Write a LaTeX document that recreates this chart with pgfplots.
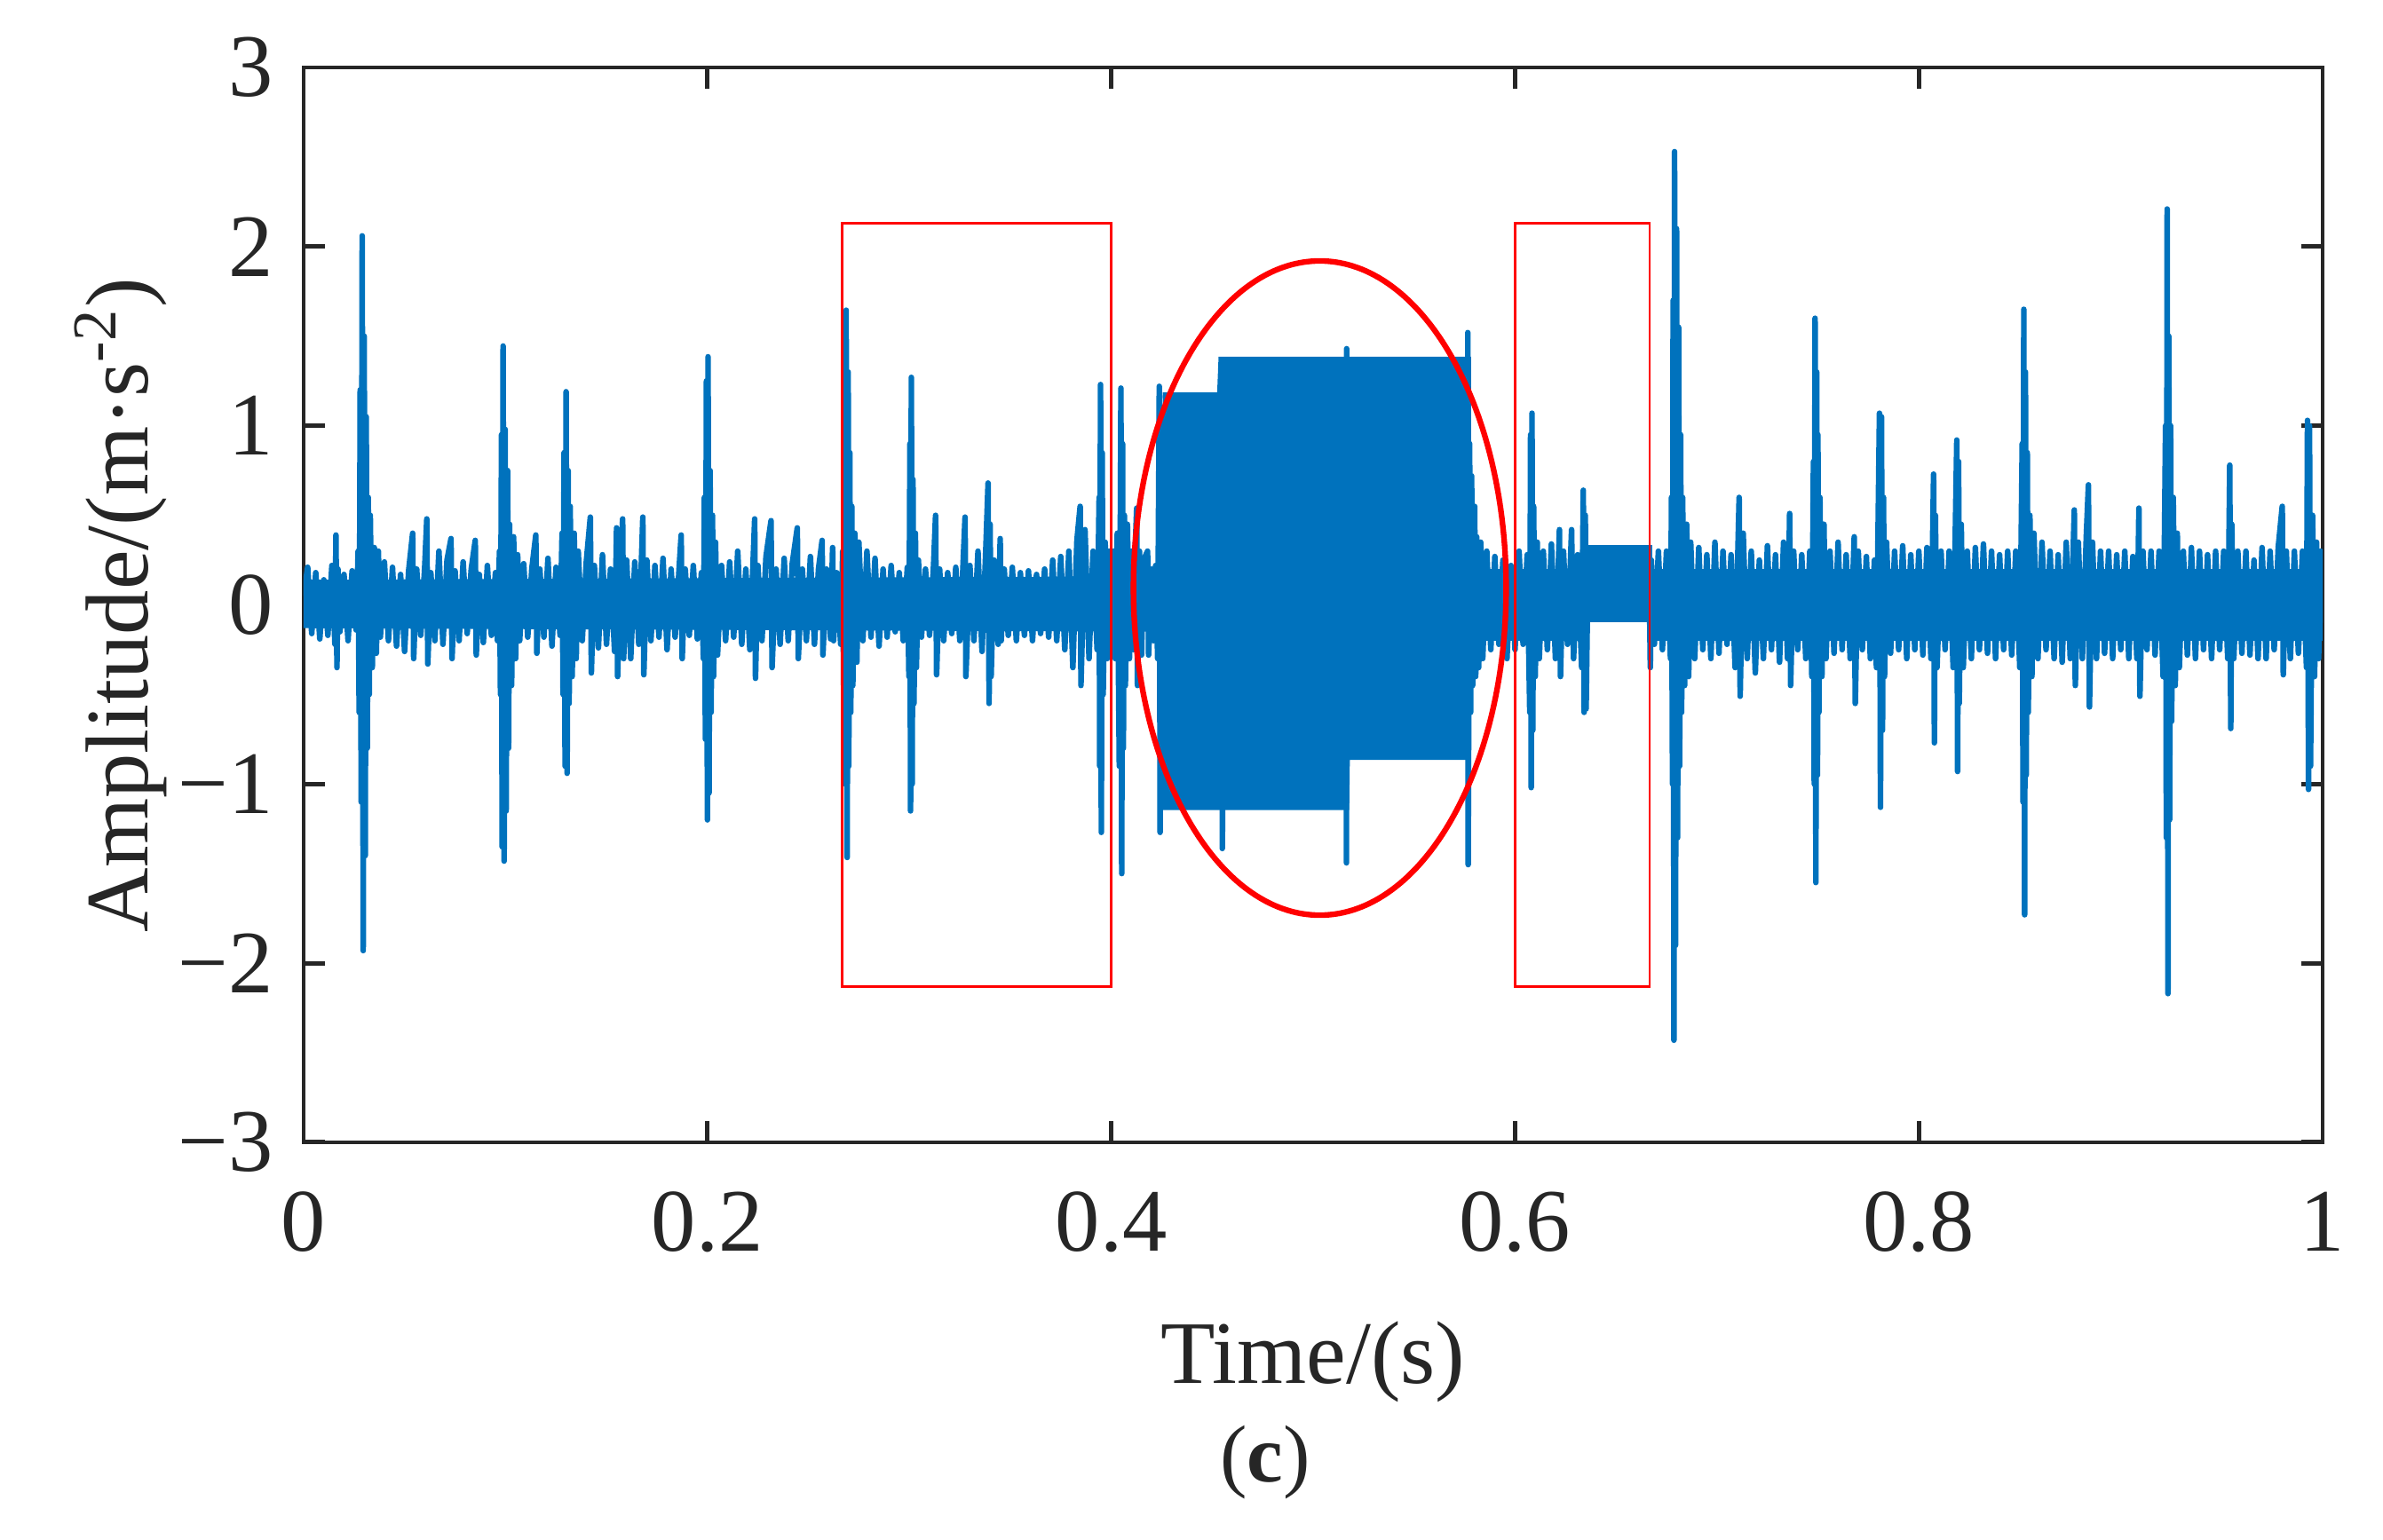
\documentclass[border=0pt]{standalone}
\usepackage{fontspec}
\setmainfont{Liberation Serif}
\usepackage{pgfplots}
\pgfplotsset{compat=1.18}
\definecolor{mblue}{HTML}{0072BD}
\definecolor{axgray}{HTML}{262626}

\begin{document}
\begin{tikzpicture}
\begin{axis}[
  name=ax,
  scale only axis, width=11.37cm, height=6.055cm,
  xmin=0, xmax=1, ymin=-3, ymax=3,
  xtick={0,0.2,0.4,0.6,0.8,1}, xticklabels={0,0.2,0.4,0.6,0.8,1},
  ytick={-3,-2,-1,0,1,2,3}, yticklabels={−3,−2,−1,0,1,2,3},
  tick align=inside, xtick pos=both, ytick pos=both,
  xticklabel pos=bottom, yticklabel pos=left,
  major tick length=0.12cm,
  axis line style={axgray, line width=0.55pt},
  every tick/.style={axgray, line width=0.7pt},
  tick label style={font=\fontsize{14.3}{16}\selectfont, text=axgray},
  xticklabel style={yshift=-4.4pt},
  yticklabel style={xshift=-1.4pt},
  label style={font=\fontsize{14.3}{16}\selectfont, text=axgray},
  xlabel={Time/(s)},
  ylabel={Amplitude/(m·s\textsuperscript{-2})},
  xlabel style={at={(axis description cs:0.5,0)}, anchor=base, yshift=-1.36cm},
  ylabel style={at={(axis description cs:-0.077,0.5)}, anchor=base},
]
% dense core of the noise band
\addplot[fill=mblue, draw=none] coordinates {(0,0.14) (0.425,0.16) (0.425,-0.15) (0,-0.13)};
\addplot[fill=mblue, draw=none] coordinates {(0.577,0.2) (0.6365,0.2) (0.6365,-0.2) (0.577,-0.2)};
\addplot[fill=mblue, draw=none] coordinates {(0.6667,0.2) (1,0.2) (1,-0.2) (0.6667,-0.2)};
% steady blocks of the signal
\addplot[fill=mblue, draw=mblue, line width=0.9pt] coordinates {
(0.4255,1.17) (0.4538,1.17) (0.4545,1.37) (0.5768,1.37) (0.5768,-0.85) (0.5168,-0.85) (0.5165,-1.13) (0.4255,-1.13)};
\addplot[fill=mblue, draw=mblue, line width=0.9pt] coordinates {
(0.6365,0.32) (0.6667,0.32) (0.6667,-0.08) (0.6365,-0.08)};

% vibration signal
\addplot[mblue, line width=0.9pt, line join=round, no markers] coordinates {
(0.000,0.05) (0.002,0.21) (0.004,-0.16) (0.006,0.18) (0.008,-0.19) (0.010,0.14) (0.012,-0.17) (0.014,0.22)
(0.0155,-0.22) (0.016,0.39) (0.0165,-0.35) (0.017,0.2) (0.018,-0.15) (0.020,0.17) (0.022,-0.2) (0.024,0.19) (0.026,-0.14) (0.027,0.3)
(0.0275,-0.6) (0.028,1.2) (0.0285,-1.1) (0.029,2.06) (0.0295,-1.93) (0.030,1.5) (0.0305,-1.4) (0.031,1.05) (0.0315,-0.8) (0.032,0.6)
(0.0325,-0.5) (0.033,0.5) (0.034,-0.35) (0.035,0.32) (0.036,-0.27) (0.037,0.3)
(0.038,-0.18) (0.040,0.24) (0.042,-0.2) (0.044,0.21) (0.046,-0.23) (0.048,0.17) (0.050,-0.26) (0.052,0.19)
(0.054,0.40) (0.0545,-0.30) (0.056,0.2) (0.058,-0.17) (0.060,0.22) (0.061,0.48) (0.0615,-0.33) (0.063,0.18) (0.065,-0.2)
(0.067,0.3) (0.069,-0.22) (0.071,0.25) (0.073,0.37) (0.0735,-0.30) (0.075,0.19) (0.077,-0.2) (0.079,0.24) (0.081,-0.16)
(0.083,0.2) (0.085,0.36) (0.0855,-0.28) (0.087,0.17) (0.089,-0.21) (0.091,0.22) (0.093,-0.17) (0.095,0.18) (0.096,-0.2)
(0.097,0.3) (0.0975,-0.5) (0.098,0.95) (0.0983,-1.35) (0.0988,1.445) (0.0993,-1.43) (0.0998,0.98) (0.1003,-1.15) (0.101,0.75)
(0.1015,-0.8) (0.102,0.45) (0.103,-0.45) (0.104,0.38) (0.105,-0.3) (0.106,0.28)
(0.107,-0.2) (0.109,0.23) (0.111,-0.18) (0.113,0.2) (0.115,0.39) (0.1155,-0.27) (0.117,0.2) (0.119,-0.18) (0.121,0.26)
(0.123,-0.23) (0.125,0.21) (0.127,-0.17)
(0.128,0.4) (0.1285,-0.5) (0.129,0.85) (0.1295,-0.9) (0.130,1.19) (0.1305,-0.94) (0.131,0.75) (0.1315,-0.55) (0.132,0.55)
(0.133,-0.4) (0.134,0.4) (0.135,-0.3) (0.136,0.3)
(0.138,-0.2) (0.140,0.24) (0.142,0.49) (0.1425,-0.38) (0.144,0.22) (0.146,-0.24) (0.148,0.28) (0.150,-0.22) (0.152,0.2)
(0.154,-0.26) (0.155,0.43) (0.1555,-0.40) (0.157,0.2) (0.158,0.48) (0.1585,-0.3) (0.160,0.25) (0.162,-0.3) (0.164,0.24)
(0.166,-0.22) (0.168,0.49) (0.1685,-0.39) (0.170,0.25) (0.172,-0.2) (0.174,0.22) (0.176,-0.18) (0.178,0.26) (0.180,-0.25)
(0.182,0.2) (0.184,-0.18) (0.186,0.21) (0.187,0.39) (0.1875,-0.30) (0.189,0.2) (0.191,-0.17) (0.193,0.22) (0.195,-0.19) (0.197,0.18)
(0.198,-0.3) (0.1985,0.6) (0.199,-0.75) (0.1995,1.25) (0.2,-1.2) (0.2003,1.385) (0.2008,-1.05) (0.2013,0.75) (0.2018,-0.6)
(0.2025,0.5) (0.203,-0.4) (0.204,0.35) (0.205,-0.28)
(0.207,0.22) (0.209,-0.2) (0.211,0.24) (0.213,-0.18) (0.215,0.3) (0.217,-0.22) (0.219,0.2) (0.221,-0.25) (0.2234,0.48)
(0.2238,-0.41) (0.225,0.22) (0.227,-0.2) (0.229,0.27) (0.2315,0.47) (0.232,-0.35) (0.234,0.2) (0.236,-0.22) (0.238,0.26)
(0.240,-0.2) (0.242,0.23) (0.2445,0.43) (0.245,-0.3) (0.247,0.2) (0.249,-0.2) (0.251,0.27) (0.253,-0.22) (0.255,0.2)
(0.2568,0.36) (0.2572,-0.28) (0.259,0.2) (0.261,-0.19) (0.262,0.32) (0.2625,-0.2) (0.264,0.18) (0.266,-0.22) (0.267,0.3)
(0.2675,-0.55) (0.268,1.0) (0.2683,-1.0) (0.2687,1.645) (0.2692,-1.41) (0.2697,1.3) (0.270,-0.9) (0.2705,0.85) (0.271,-0.6)
(0.2715,0.55) (0.272,-0.45) (0.273,0.4) (0.274,-0.32) (0.275,0.35)
(0.277,-0.2) (0.279,0.3) (0.281,-0.18) (0.283,0.26) (0.285,-0.23) (0.287,0.2) (0.289,-0.18) (0.291,0.22) (0.293,-0.15)
(0.295,0.18) (0.297,-0.2) (0.299,0.21)
(0.2998,-0.4) (0.3003,0.9) (0.3006,-1.15) (0.301,1.27) (0.3014,-1.0) (0.3018,0.7) (0.3023,-0.55) (0.303,0.4) (0.3035,-0.35) (0.3045,0.25)
(0.306,-0.18) (0.308,0.2) (0.310,-0.17) (0.312,0.22) (0.313,0.5) (0.3135,-0.39) (0.315,0.2) (0.317,-0.2) (0.319,0.18)
(0.321,-0.16) (0.323,0.21) (0.325,-0.2) (0.3276,0.49) (0.328,-0.40) (0.330,0.22) (0.332,-0.2) (0.334,0.3) (0.336,-0.26)
(0.338,0.35) (0.339,0.68) (0.3395,-0.55) (0.340,0.45) (0.3405,-0.4) (0.342,0.25) (0.344,-0.22) (0.345,0.37) (0.3455,-0.2)
(0.347,0.2) (0.349,-0.17) (0.351,0.21) (0.353,-0.2) (0.355,0.18) (0.357,-0.17) (0.359,0.19) (0.361,-0.2) (0.363,0.17)
(0.365,-0.16) (0.367,0.2) (0.369,-0.18) (0.371,0.25) (0.373,-0.2) (0.375,0.27) (0.377,-0.25) (0.379,0.3) (0.381,-0.35)
(0.383,0.36) (0.3846,0.55) (0.385,-0.45) (0.387,0.42) (0.389,-0.3) (0.391,0.3) (0.393,-0.25)
(0.3940,0.6) (0.3943,-0.9) (0.3947,1.23) (0.3951,-1.27) (0.3955,0.85) (0.396,-0.5) (0.397,0.35) (0.398,-0.3) (0.399,0.3)
(0.400,-0.25) (0.401,0.3) (0.402,-0.3) (0.403,0.4) (0.404,-0.9)
(0.4048,1.21) (0.4052,-1.5) (0.4056,0.9) (0.406,-0.8) (0.4065,0.5) (0.407,-0.45) (0.408,0.45) (0.409,-0.3) (0.410,0.3)
(0.411,-0.25) (0.412,0.35) (0.4126,0.54) (0.413,-0.45) (0.414,0.3) (0.415,-0.28) (0.416,0.25) (0.418,0.3) (0.4185,-0.28)
(0.420,0.2) (0.421,-0.2) (0.422,0.22) (0.423,-0.3)
(0.4238,1.22) (0.4242,-1.27) (0.4248,1.1) (0.4252,-1.1) (0.426,0)
(0.455,0) (0.455,1.25) (0.455,-1.36) (0.456,0) (0.5165,0) (0.5165,-1.44) (0.5166,1.43) (0.517,0) (0.5766,0)
(0.5766,1.52) (0.5768,-1.45) (0.5775,0.9) (0.578,-0.6) (0.5785,0.72) (0.579,-0.45) (0.580,0.55) (0.5805,-0.4) (0.581,0.38)
(0.582,-0.35) (0.583,0.35) (0.584,-0.3) (0.586,0.3) (0.588,-0.25) (0.590,0.27) (0.592,-0.22) (0.594,0.25) (0.596,-0.3)
(0.598,0.22) (0.600,-0.25) (0.602,0.3) (0.604,-0.22) (0.606,0.28)
(0.6073,-0.6) (0.6077,0.95) (0.608,-1.02) (0.6084,1.07) (0.6088,-0.7) (0.6092,0.55) (0.610,-0.4) (0.611,0.35) (0.612,-0.3)
(0.614,0.3) (0.616,-0.25) (0.618,0.34) (0.620,-0.3) (0.622,0.42) (0.6225,-0.4) (0.624,0.3) (0.626,-0.22) (0.628,0.42)
(0.629,-0.3) (0.631,0.28) (0.633,-0.35)
(0.6338,0.64) (0.6342,-0.6) (0.6348,0.5) (0.6352,-0.58) (0.636,0.1) (0.6665,0.1)
(0.667,-0.35) (0.6675,0.25) (0.669,-0.22) (0.671,0.3) (0.673,-0.25) (0.675,0.3) (0.677,-0.3)
(0.6775,0.6) (0.678,-1.0) (0.6783,1.7) (0.6787,-2.43) (0.679,2.53) (0.6795,-1.9) (0.680,2.1) (0.6805,-1.3) (0.681,1.55)
(0.6815,-0.9) (0.682,0.95) (0.6825,-0.6) (0.683,0.6) (0.684,-0.45) (0.685,0.45) (0.686,-0.4) (0.687,0.35)
(0.689,-0.3) (0.691,0.32) (0.693,-0.25) (0.695,0.28) (0.697,-0.3) (0.699,0.35) (0.701,-0.27) (0.703,0.3) (0.705,-0.22)
(0.707,0.28) (0.709,-0.35) (0.711,0.6) (0.7115,-0.51) (0.713,0.4) (0.715,-0.3) (0.717,0.3) (0.719,-0.38) (0.721,0.25)
(0.723,-0.3) (0.725,0.33) (0.727,-0.25) (0.729,0.28) (0.731,-0.32) (0.733,0.35) (0.735,-0.3) (0.736,0.51) (0.7365,-0.45)
(0.738,0.3) (0.740,-0.25) (0.742,0.28) (0.744,-0.3) (0.746,0.3) (0.747,-0.4)
(0.7478,0.8) (0.7482,-1.0) (0.7486,1.6) (0.749,-1.55) (0.7494,1.3) (0.7498,-0.95) (0.750,0.95) (0.7505,-0.6) (0.751,0.6)
(0.752,-0.4) (0.753,0.45) (0.754,-0.3)
(0.756,0.3) (0.758,-0.27) (0.760,0.35) (0.762,-0.25) (0.764,0.28) (0.766,-0.3) (0.768,0.38) (0.7685,-0.55) (0.770,0.3)
(0.772,-0.25) (0.774,0.27) (0.776,-0.3) (0.778,0.25) (0.779,-0.35)
(0.7805,1.07) (0.781,-1.13) (0.7815,1.05) (0.782,-0.7) (0.7825,0.6) (0.783,-0.4) (0.784,0.35)
(0.786,-0.27) (0.788,0.3) (0.790,-0.25) (0.792,0.33) (0.794,-0.3) (0.796,0.28) (0.798,-0.25) (0.800,0.3) (0.802,-0.28)
(0.804,0.32) (0.806,-0.3) (0.8073,0.73) (0.8077,-0.77) (0.8082,0.5) (0.809,-0.35) (0.811,0.3) (0.813,-0.25) (0.815,0.3)
(0.817,-0.35) (0.8188,0.92) (0.8192,-0.93) (0.8197,0.8) (0.820,-0.55) (0.821,0.45) (0.822,-0.35) (0.824,0.3) (0.826,-0.3)
(0.828,0.32) (0.830,-0.25) (0.832,0.34) (0.834,-0.27) (0.836,0.3) (0.838,-0.3) (0.840,0.28) (0.842,-0.25) (0.844,0.3)
(0.846,-0.28) (0.848,0.3) (0.850,-0.35)
(0.8512,0.9) (0.8516,-1.1) (0.852,1.65) (0.8524,-1.73) (0.8528,1.3) (0.8532,-0.95) (0.8537,0.85) (0.8542,-0.6) (0.855,0.5)
(0.856,-0.4) (0.857,0.4)
(0.859,-0.3) (0.861,0.35) (0.863,-0.25) (0.865,0.3) (0.867,-0.3) (0.869,0.28) (0.871,-0.32) (0.873,0.35) (0.875,-0.3)
(0.877,0.53) (0.8775,-0.45) (0.879,0.35) (0.881,-0.3) (0.883,0.4) (0.884,0.67) (0.8845,-0.57) (0.886,0.35) (0.888,-0.3)
(0.890,0.3) (0.892,-0.27) (0.894,0.3) (0.896,-0.3) (0.898,0.28) (0.900,-0.25) (0.902,0.3) (0.904,-0.3) (0.906,0.27)
(0.908,-0.3) (0.909,0.54) (0.9095,-0.51) (0.911,0.3) (0.913,-0.25) (0.915,0.3) (0.917,-0.28) (0.919,0.3) (0.921,-0.4)
(0.9222,1.0) (0.9226,-1.3) (0.923,2.21) (0.9234,-2.17) (0.9238,1.5) (0.9242,-1.2) (0.9247,1.0) (0.9252,-0.65) (0.926,0.6)
(0.927,-0.45) (0.928,0.4) (0.929,-0.35)
(0.931,0.3) (0.933,-0.28) (0.935,0.32) (0.937,-0.3) (0.939,0.3) (0.941,-0.25) (0.943,0.28) (0.945,-0.3) (0.947,0.3)
(0.949,-0.25) (0.951,0.3) (0.953,-0.3) (0.954,0.78) (0.9545,-0.69) (0.955,0.45) (0.956,-0.3) (0.958,0.3) (0.960,-0.27)
(0.962,0.3) (0.964,-0.28) (0.966,0.25) (0.968,-0.3) (0.970,0.32) (0.972,-0.3) (0.974,0.3) (0.976,-0.25) (0.978,0.32)
(0.980,0.55) (0.9805,-0.39) (0.982,0.3) (0.984,-0.3) (0.986,0.3) (0.988,-0.27) (0.990,0.3) (0.992,-0.35)
(0.9925,1.03) (0.993,-1.03) (0.9935,1.0) (0.994,-0.9) (0.995,0.5) (0.996,-0.4) (0.997,0.35) (0.998,-0.3) (0.999,0.3) (1.0,-0.1)
};

% annotations
\draw[red, line width=0.4pt] (axis cs:0.2667,-2.13) rectangle (axis cs:0.4,2.13);
\draw[red, line width=0.4pt] (axis cs:0.6,-2.13) rectangle (axis cs:0.6667,2.13);
\draw[red, line width=0.9pt] (axis cs:0.5033,0.094) ellipse [x radius=0.0923, y radius=1.826];
\end{axis}
\node[anchor=base, font=\fontsize{13}{15}\selectfont, text=axgray] at ([xshift=-0.27cm, yshift=-1.915cm]ax.south) {(\textbf{c})};
\pgfresetboundingbox
\path[use as bounding box] ([shift={(-1.71cm,-2.24cm)}]ax.south west) rectangle ([shift={(0.34cm,0.38cm)}]ax.north east);
\end{tikzpicture}
\end{document}
